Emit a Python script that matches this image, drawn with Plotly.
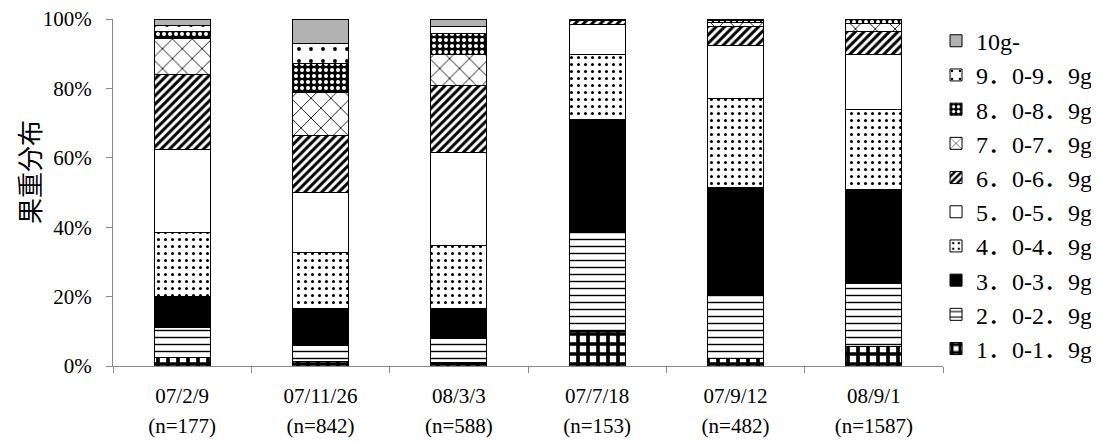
import plotly.graph_objects as go

categories = ["07/2/9<br>(n=177)", "07/11/26<br>(n=842)", "08/3/3<br>(n=588)",
              "07/7/18<br>(n=153)", "07/9/12<br>(n=482)", "08/9/1<br>(n=1587)"]

classes = ["1．0-1．9g", "2．0-2．9g", "3．0-3．9g", "4．0-4．9g", "5．0-5．9g",
           "6．0-6．9g", "7．0-7．9g", "8．0-8．9g", "9．0-9．9g", "10g-"]

y_title = "果重分布"

# percentage of fruits per weight class, per sampling date
w_1_0 = [2.5, 1.2, 1.0, 9.9, 2.3, 5.5]
w_2_0 = [8.5, 4.6, 6.8, 28.6, 18.3, 18.4]
w_3_0 = [9.0, 10.9, 8.9, 32.6, 30.9, 27.1]
w_4_0 = [18.5, 16.1, 17.9, 18.8, 25.6, 23.0]
w_5_0 = [24.0, 17.1, 27.0, 8.5, 15.4, 15.7]
w_6_0 = [21.5, 16.5, 19.3, 1.2, 5.2, 6.6]
w_7_0 = [10.5, 12.5, 8.8, 0.4, 1.2, 2.4]
w_8_0 = [2.0, 8.4, 6.1, 0.0, 0.8, 1.3]
w_9_0 = [1.5, 5.5, 1.9, 0.0, 0.3, 0.0]
w_10 = [2.0, 7.2, 2.3, 0.0, 0.0, 0.0]

y_ticks = [0, 20, 40, 60, 80, 100]
y_labels = ["0%", "20%", "40%", "60%", "80%", "100%"]

series = [w_1_0, w_2_0, w_3_0, w_4_0, w_5_0, w_6_0, w_7_0, w_8_0, w_9_0, w_10]

styles = [
    dict(color="white", pattern=dict(shape="+", fgcolor="black", bgcolor="white", size=10, solidity=0.6, fillmode="replace")),
    dict(color="white", pattern=dict(shape="-", fgcolor="black", bgcolor="white", size=7, solidity=0.2, fillmode="replace")),
    dict(color="black"),
    dict(color="white", pattern=dict(shape=".", fgcolor="black", bgcolor="white", size=7, solidity=0.15, fillmode="replace")),
    dict(color="white"),
    dict(color="white", pattern=dict(shape="/", fgcolor="black", bgcolor="white", size=6, solidity=0.5, fillmode="replace")),
    dict(color="white", pattern=dict(shape="x", fgcolor="black", bgcolor="white", size=14, solidity=0.12, fillmode="replace")),
    dict(color="black", pattern=dict(shape=".", fgcolor="white", bgcolor="black", size=6, solidity=0.35, fillmode="replace")),
    dict(color="white", pattern=dict(shape=".", fgcolor="black", bgcolor="white", size=12, solidity=0.08, fillmode="replace")),
    dict(color="#b2b2b2"),
]

SERIF = "Liberation Serif, Noto Sans CJK JP"

# x tick labels: smaller text inside a larger line height
x_ticktext = ["<br>".join('<span style="font-size:21px">%s</span>' % part
                          for part in c.split("<br>")) for c in categories]

fig = go.Figure()
for i, (name, vals, st) in enumerate(zip(classes, series, styles)):
    marker = dict(line=dict(color="black", width=1), **st)
    fig.add_trace(go.Bar(x=categories, y=vals, name=name, marker=marker,
                         legendrank=100 - i))

# the page body adds an 8px margin on the left and top
fig.update_layout(
    barmode="stack",
    bargap=0.595,
    width=1091, height=436,
    margin=dict(l=105, r=156, t=11, b=78, autoexpand=False),
    paper_bgcolor="white", plot_bgcolor="white",
    font=dict(family=SERIF, size=21, color="black"),
    showlegend=True,
    legend=dict(x=0.9916, xanchor="left", y=1.001, yanchor="top",
                maxheight=440, traceorder="normal",
                font=dict(size=24, family=SERIF),
                bgcolor="rgba(0,0,0,0)"),
    annotations=[dict(text=y_title, textangle=-90, xref="paper", yref="paper",
                      x=-0.102, y=0.56, xanchor="center", yanchor="middle",
                      showarrow=False, font=dict(size=26, family="Noto Sans CJK JP"))],
)
fig.update_yaxes(range=[0, 100], tickmode="array", tickvals=y_ticks, ticktext=y_labels,
                 showgrid=False, showline=True, linecolor="#898989", linewidth=1,
                 ticks="outside", ticklen=6, tickcolor="#898989", ticklabelstandoff=10,
                 ticklabeloverflow="allow", zeroline=False)
fig.update_xaxes(showgrid=False, showline=True, linecolor="#898989", linewidth=1,
                 ticks="outside", tickson="boundaries", ticklen=6, tickcolor="#898989",
                 tickmode="array", tickvals=categories, ticktext=x_ticktext,
                 tickfont=dict(size=23), ticklabelstandoff=8, ticklabeloverflow="allow")

fig.write_html("out.html")
